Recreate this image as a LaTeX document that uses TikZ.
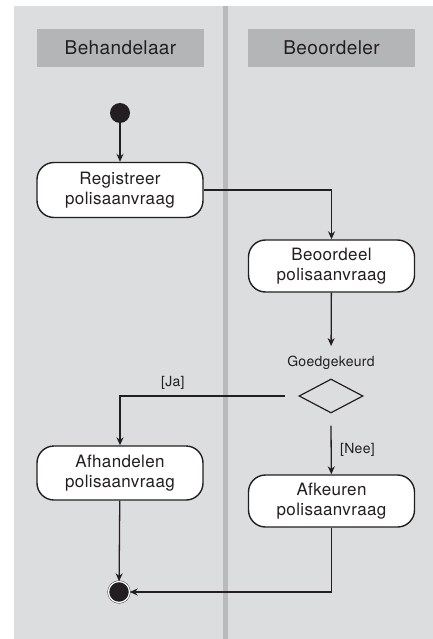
\documentclass[tikz,border=0pt]{standalone}
\usepackage{fontspec}
\setmainfont[LetterSpace=2]{TeX Gyre Heros}
\usepackage{tikz}
\usetikzlibrary{shapes.geometric, arrows.meta}
\definecolor{lanebg}{HTML}{DCDDDF}
\definecolor{lanehd}{HTML}{B4B5B7}
\definecolor{lanediv}{HTML}{B9BABC}
\definecolor{ink}{HTML}{231F20}
\tikzset{
  every node/.append style={text=ink},
  lanehead/.style={fill=lanehd, minimum width=167pt, minimum height=38pt, inner sep=0pt, font=\fontsize{19}{22}\selectfont},
  action/.style={draw=ink, line width=1.4pt, fill=white, rounded corners=17pt, minimum width=166pt, inner sep=0pt, align=center, font=\fontsize{17}{20}\selectfont},
  guard/.style={font=\fontsize{14}{16}\selectfont},
  flow/.style={draw=ink, line width=1.3pt, -{Stealth[length=8pt, width=7pt]}}
}

\begin{document}
\begin{tikzpicture}[x=1pt, y=-1pt]
    \useasboundingbox (0,0) rectangle (433,639);
    \fill[lanebg] (14,6) rectangle (433,639);
    \fill[lanediv] (223,6) rectangle (228,639);

    % swimlanes
    \node[lanehead] (behandelaar) at (120.5,48) {Behandelaar};
    \node[lanehead] (beoordelaar) at (331.5,48) {Beoordeler};

    % activities
    \node[circle, fill=ink, minimum size=20pt, inner sep=0pt] (start) at (120,113) {};
    \node[action, minimum height=55pt] (registreer) at (120,190) {Registreer\\polisaanvraag};
    \node[action, minimum height=52pt] (beoordeel) at (331.5,266) {Beoordeel\\polisaanvraag};
    \node[guard, inner ysep=10pt] (goedlabel) at (331,363) {Goedgekeurd};
    \node[diamond, draw=ink, line width=1.2pt, minimum width=64pt, minimum height=34pt, inner sep=0pt] (keuze) at (331,396) {};
    \node[action, minimum height=54pt] (afhandelen) at (120,473) {Afhandelen\\polisaanvraag};
    \node[action, minimum height=52pt] (afkeuren) at (331.5,501) {Afkeuren\\polisaanvraag};
    \node[circle, fill=ink, draw=ink, double=white, double distance=1.3pt, minimum size=21pt, inner sep=0pt] (eind) at (119,592) {};

    % flows
    \draw[flow] (start) -- (registreer);
    \draw[flow] (registreer.east) -| (beoordeel.north);
    \draw[flow] (beoordeel) -- (goedlabel);
    \draw[flow] ([xshift=-13pt]keuze.west) -| node[guard, pos=0.34, above=3pt] {[Ja]} (afhandelen.north);
    \draw[flow] ([yshift=-12pt]keuze.south) -- node[guard, right=5pt] {[Nee]} (afkeuren);
    \draw[flow] (afhandelen) -- (eind);
    \draw[flow] (afkeuren.south) |- (eind);
\end{tikzpicture}
\end{document}
